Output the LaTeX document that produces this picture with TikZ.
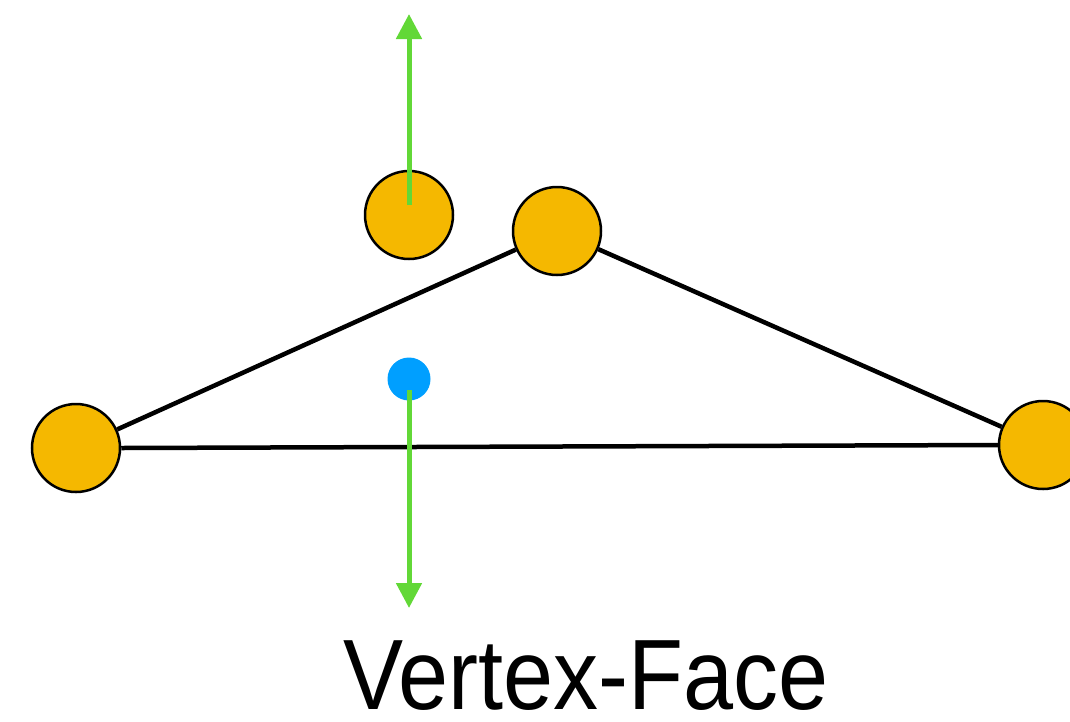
\documentclass[tikz,border=0pt]{standalone}
\usepackage{fontspec}
\setmainfont{Liberation Sans}
\usetikzlibrary{arrows.meta}
\definecolor{vorange}{HTML}{F5B800}
\definecolor{vblue}{HTML}{009FFF}
\definecolor{vgreen}{HTML}{62D837}
\tikzset{
  vert/.style={circle,draw=black,line width=2.5pt,fill=vorange,minimum size=88pt,inner sep=0pt},
  edge/.style={line width=4.5pt,black},
  normal/.style={vgreen,line width=5pt,-{Triangle[width=25pt,length=25pt]}},
  face/.style={circle,fill=vblue,minimum size=43pt,inner sep=0pt}
}
\begin{document}
\begin{tikzpicture}[x=1pt,y=-1pt]
\useasboundingbox (0,0) rectangle (1070,721);
\clip (0,0) rectangle (1070,721);
\node[vert] (L) at (76,448) {};
\node[vert] (T) at (557,231) {};
\node[vert] (R) at (1043,445) {};
\draw[edge] (L) -- (T);
\draw[edge] (T) -- (R);
\draw[edge] (L.east) -- (R.west);
\node[vert] (P) at (409,215) {};
\node[face] (F) at (409,379) {};
\coordinate (Pn) at (409,205);
\coordinate (Pt) at (409,14);
\coordinate (Fn) at (409,390);
\coordinate (Ft) at (409,608);
\draw[normal] (Pn) -- (Pt);
\draw[normal] (Fn) -- (Ft);
\node[anchor=base,font=\fontsize{100}{110}\selectfont,inner sep=0pt,xscale=0.9,transform shape] (lab) at (586,709) {Vertex-Face};
\end{tikzpicture}
\end{document}
